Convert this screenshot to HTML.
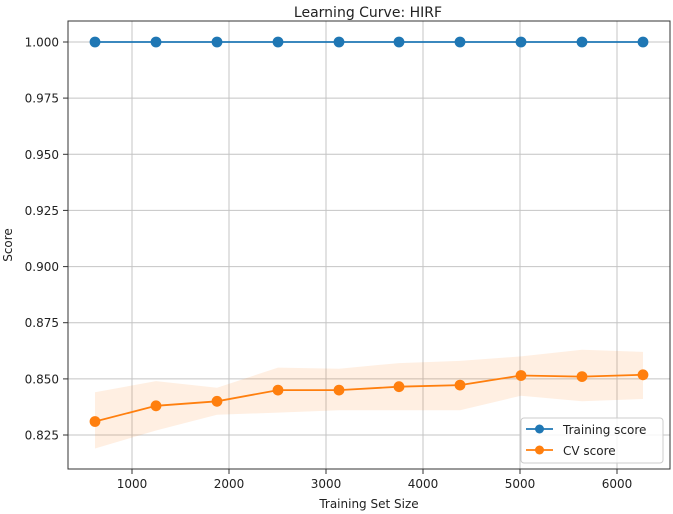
<!DOCTYPE html>
<html><head><style>body{margin:0;background:#fff}svg{display:block}text{font-family:"DejaVu Sans","Liberation Sans",sans-serif;fill:#222}</style></head>
<body>
<svg width="673" height="514" viewBox="0 0 673 514" xmlns="http://www.w3.org/2000/svg">
<text x="368" y="17" font-size="14" text-anchor="middle">Learning Curve: HIRF</text>
<g stroke="#c4c4c4" stroke-width="1">
<line x1="132" y1="21" x2="132" y2="469"/><line x1="229" y1="21" x2="229" y2="469"/><line x1="326" y1="21" x2="326" y2="469"/><line x1="423" y1="21" x2="423" y2="469"/><line x1="520" y1="21" x2="520" y2="469"/><line x1="617" y1="21" x2="617" y2="469"/>
<line x1="68" y1="42" x2="670" y2="42"/><line x1="68" y1="98.1" x2="670" y2="98.1"/><line x1="68" y1="154.3" x2="670" y2="154.3"/><line x1="68" y1="210.4" x2="670" y2="210.4"/><line x1="68" y1="266.6" x2="670" y2="266.6"/><line x1="68" y1="322.7" x2="670" y2="322.7"/><line x1="68" y1="378.9" x2="670" y2="378.9"/><line x1="68" y1="435" x2="670" y2="435"/>
</g>
<polygon fill="#ff7f0e" fill-opacity="0.12" points="95,392.3 156,381.1 217,387.8 278,367.6 339,368.7 399,363.1 460,360.9 521,356.4 582,349.7 643,351.9 643,399 582,401.3 521,395.7 460,410.3 399,410.3 339,410.3 278,412.6 217,414.8 156,430.5 95,448.5"/>
<g stroke="#1f77b4" stroke-width="1.8" fill="#1f77b4">
<line x1="95" y1="42" x2="643" y2="42"/>
<circle cx="95" cy="42" r="4.5"/><circle cx="156" cy="42" r="4.5"/><circle cx="217" cy="42" r="4.5"/><circle cx="278" cy="42" r="4.5"/><circle cx="339" cy="42" r="4.5"/><circle cx="399" cy="42" r="4.5"/><circle cx="460" cy="42" r="4.5"/><circle cx="521" cy="42" r="4.5"/><circle cx="582" cy="42" r="4.5"/><circle cx="643" cy="42" r="4.5"/>
</g>
<g stroke="#ff7f0e" stroke-width="1.8" fill="#ff7f0e">
<polyline fill="none" points="95,421.5 156,405.8 217,401.3 278,390.1 339,390.1 399,386.7 460,385.1 521,375.5 582,376.6 643,374.8"/>
<circle cx="95" cy="421.5" r="4.5"/><circle cx="156" cy="405.8" r="4.5"/><circle cx="217" cy="401.3" r="4.5"/><circle cx="278" cy="390.1" r="4.5"/><circle cx="339" cy="390.1" r="4.5"/><circle cx="399" cy="386.7" r="4.5"/><circle cx="460" cy="385.1" r="4.5"/><circle cx="521" cy="375.5" r="4.5"/><circle cx="582" cy="376.6" r="4.5"/><circle cx="643" cy="374.8" r="4.5"/>
</g>
<rect x="68" y="21" width="602" height="448" fill="none" stroke="#333" stroke-width="1"/>
<g stroke="#333"><line x1="63" y1="42" x2="68" y2="42"/><line x1="63" y1="98.1" x2="68" y2="98.1"/><line x1="63" y1="154.3" x2="68" y2="154.3"/><line x1="63" y1="210.4" x2="68" y2="210.4"/><line x1="63" y1="266.6" x2="68" y2="266.6"/><line x1="63" y1="322.7" x2="68" y2="322.7"/><line x1="63" y1="378.9" x2="68" y2="378.9"/><line x1="63" y1="435" x2="68" y2="435"/>
<line x1="132" y1="469" x2="132" y2="474"/><line x1="229" y1="469" x2="229" y2="474"/><line x1="326" y1="469" x2="326" y2="474"/><line x1="423" y1="469" x2="423" y2="474"/><line x1="520" y1="469" x2="520" y2="474"/><line x1="617" y1="469" x2="617" y2="474"/></g>
<g font-size="12" text-anchor="end">
<text x="59" y="46.5">1.000</text><text x="59" y="102.6">0.975</text><text x="59" y="158.8">0.950</text><text x="59" y="214.9">0.925</text><text x="59" y="271.1">0.900</text><text x="59" y="327.2">0.875</text><text x="59" y="383.4">0.850</text><text x="59" y="439.5">0.825</text>
</g>
<g font-size="12" text-anchor="middle">
<text x="132" y="488">1000</text><text x="229" y="488">2000</text><text x="326" y="488">3000</text><text x="423" y="488">4000</text><text x="520" y="488">5000</text><text x="617" y="488">6000</text>
<text x="369" y="508">Training Set Size</text>
</g>
<text font-size="12" text-anchor="middle" transform="translate(12,245) rotate(-90)">Score</text>
<rect x="521" y="418" width="142" height="45" rx="3" fill="#fff" fill-opacity="0.85" stroke="#ccc"/>
<line x1="526" y1="429" x2="553" y2="429" stroke="#1f77b4" stroke-width="1.8"/><circle cx="539.5" cy="429" r="4.5" fill="#1f77b4"/>
<line x1="526" y1="450" x2="553" y2="450" stroke="#ff7f0e" stroke-width="1.8"/><circle cx="539.5" cy="450" r="4.5" fill="#ff7f0e"/>
<text x="563" y="434" font-size="12">Training score</text>
<text x="563" y="455" font-size="12">CV score</text>
</svg>
</body></html>
